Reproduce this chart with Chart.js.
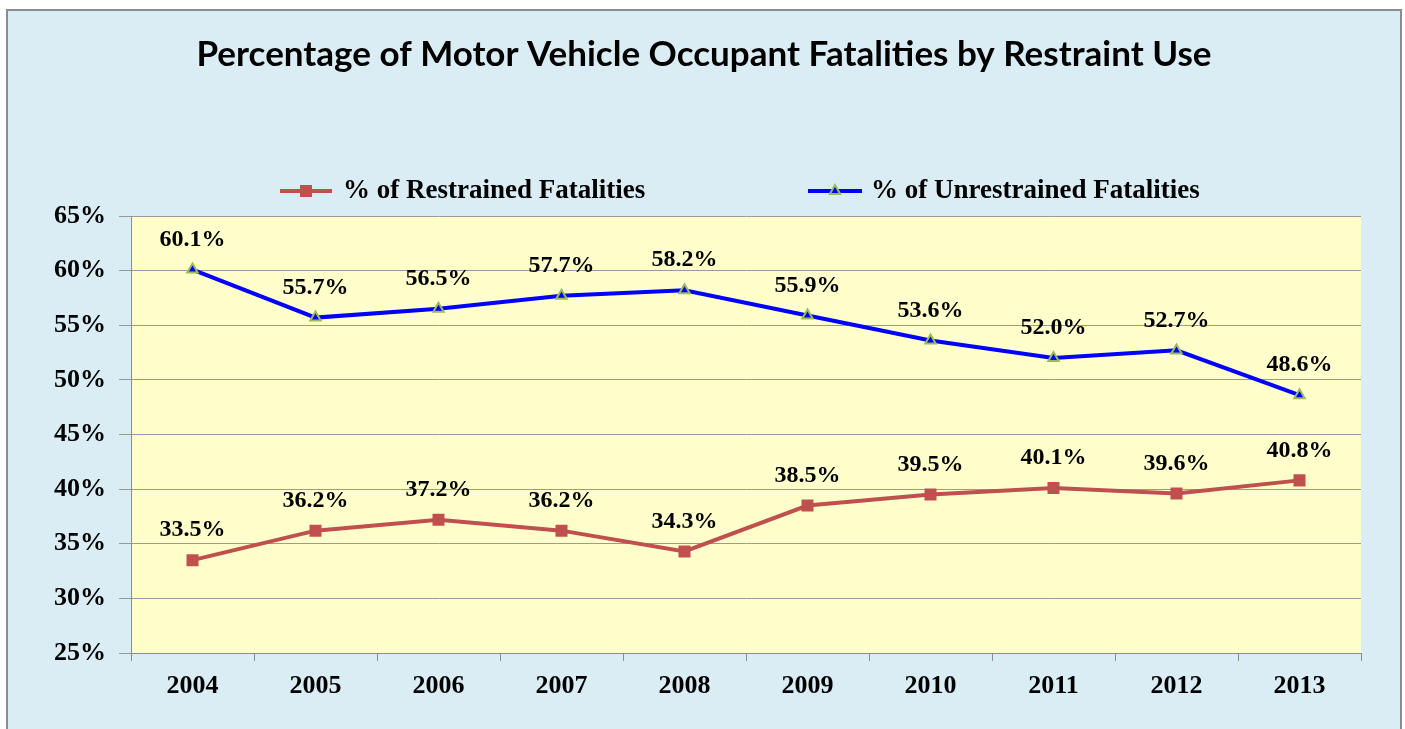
<!DOCTYPE html>
<html>
<head>
<meta charset="utf-8">
<script src="https://cdn.jsdelivr.net/npm/chart.js@4"></script>
<style>
    body { margin: 0; background: #ffffff; }
    #frame {
        position: absolute; left: 6px; top: 9px; width: 1392px; height: 740px;
        background: #daedf4; border: 2px solid #8c8c8c; border-bottom: none;
    }
    #wrap { position: absolute; left: 0; top: 0; width: 1405px; height: 729px; }
</style>
</head>
<body>
<div id="frame"></div>
<div id="wrap"><canvas id="chart" width="1405" height="729"></canvas></div>
<script>
// Dati del grafico
const years = ['2004', '2005', '2006', '2007', '2008', '2009', '2010', '2011', '2012', '2013'];
const restrained = [33.5, 36.2, 37.2, 36.2, 34.3, 38.5, 39.5, 40.1, 39.6, 40.8];
const unrestrained = [60.1, 55.7, 56.5, 57.7, 58.2, 55.9, 53.6, 52.0, 52.7, 48.6];
const seriesLabels = ['% of Restrained Fatalities', '% of Unrestrained Fatalities'];
const chartTitle = 'Percentage of Motor Vehicle Occupant Fatalities by Restraint Use';
const yMin = 25, yMax = 65, yStep = 5;

const serif = '"Liberation Serif", "Times New Roman", serif';

// Sfondo giallo dell'area del grafico
const plotBackground = {
    id: 'plotBackground',
    beforeDraw(chart) {
        const { ctx, chartArea } = chart;
        ctx.save();
        ctx.fillStyle = '#ffffcc';
        ctx.fillRect(chartArea.left, chartArea.top, chartArea.right - chartArea.left, chartArea.bottom - chartArea.top);
        ctx.restore();
    }
};

// Titolo centrato sulla cornice (non sull'area del grafico)
const centeredTitle = {
    id: 'centeredTitle',
    afterDraw(chart) {
        const { ctx } = chart;
        ctx.save();
        ctx.font = 'bold 35px Lato, "Open Sans", sans-serif';
        ctx.fillStyle = '#000000';
        ctx.textAlign = 'center';
        ctx.textBaseline = 'middle';
        ctx.fillText(chartTitle, 704, 55);
        ctx.restore();
    }
};

// Etichette dei valori sopra ai punti
const valueLabels = {
    id: 'valueLabels',
    afterDatasetsDraw(chart) {
        const { ctx } = chart;
        ctx.save();
        ctx.font = 'bold 24px ' + serif;
        ctx.fillStyle = '#000000';
        ctx.textAlign = 'center';
        ctx.textBaseline = 'middle';
        chart.data.datasets.forEach((ds, i) => {
            chart.getDatasetMeta(i).data.forEach((pt, j) => {
                ctx.fillText(ds.data[j].toFixed(1) + '%', pt.x, pt.y - 30);
            });
        });
        ctx.restore();
    }
};

// Legenda: linea con marcatore al centro, poi testo
const lineLegend = {
    id: 'lineLegend',
    afterDraw(chart) {
        const { ctx } = chart;
        const items = [
            { x1: 280, x2: 332, tx: 343 },
            { x1: 808, x2: 862, tx: 871 }
        ];
        const y = 191;
        ctx.save();
        chart.data.datasets.forEach((ds, i) => {
            const it = items[i];
            ctx.strokeStyle = ds.borderColor;
            ctx.lineWidth = 4;
            ctx.beginPath();
            ctx.moveTo(it.x1, y);
            ctx.lineTo(it.x2, y);
            ctx.stroke();
            ctx.fillStyle = ds.pointBackgroundColor;
            ctx.strokeStyle = ds.pointBorderColor;
            ctx.lineWidth = ds.pointBorderWidth;
            Chart.helpers.drawPoint(ctx, {
                pointStyle: ds.pointStyle,
                radius: ds.pointRadius,
                borderWidth: ds.pointBorderWidth,
                rotation: 0
            }, (it.x1 + it.x2) / 2, y);
            ctx.font = 'bold 27px ' + serif;
            ctx.fillStyle = '#000000';
            ctx.textAlign = 'left';
            ctx.textBaseline = 'middle';
            ctx.fillText(ds.label, it.tx, y);
        });
        ctx.restore();
    }
};

const ctx = document.getElementById('chart');
new Chart(ctx, {
    type: 'line',
    data: {
        labels: years,
        datasets: [
            {
                label: seriesLabels[0],
                data: restrained,
                borderColor: '#c0504d',
                backgroundColor: '#c0504d',
                borderWidth: 4,
                pointStyle: 'rect',
                pointRadius: 8.5,
                pointBackgroundColor: '#c0504d',
                pointBorderColor: '#c0504d',
                pointBorderWidth: 0,
                tension: 0
            },
            {
                label: seriesLabels[1],
                data: unrestrained,
                borderColor: '#0000ff',
                backgroundColor: '#0000ff',
                borderWidth: 4,
                pointStyle: 'triangle',
                pointRadius: 6,
                pointBackgroundColor: '#0000ff',
                pointBorderColor: '#9bbb59',
                pointBorderWidth: 2,
                tension: 0
            }
        ]
    },
    options: {
        responsive: false,
        animation: false,
        layout: { padding: { left: 0, right: 44, top: 216, bottom: 0 } },
        plugins: {
            legend: { display: false },
            tooltip: { enabled: false },
            title: { display: false }
        },
        scales: {
            x: {
                offset: true,
                grid: {
                    offset: true,
                    drawOnChartArea: false,
                    drawTicks: true,
                    tickLength: 8,
                    color: '#8c8c8c'
                },
                border: { color: '#8c8c8c' },
                ticks: {
                    color: '#000000',
                    font: { family: serif, size: 26, weight: 'bold' },
                    padding: 10,
                    maxRotation: 0
                },
                afterFit(scale) { scale.height = 76; }
            },
            y: {
                min: yMin,
                max: yMax,
                grid: {
                    color: '#9a9a9a',
                    tickLength: 12,
                    drawTicks: true
                },
                border: { color: '#8c8c8c' },
                ticks: {
                    stepSize: yStep,
                    color: '#000000',
                    font: { family: serif, size: 26, weight: 'bold' },
                    padding: 13,
                    callback: v => v + '%'
                },
                afterFit(scale) { scale.width = 131; }
            }
        }
    },
    plugins: [plotBackground, valueLabels, lineLegend, centeredTitle]
});
</script>
</body>
</html>
